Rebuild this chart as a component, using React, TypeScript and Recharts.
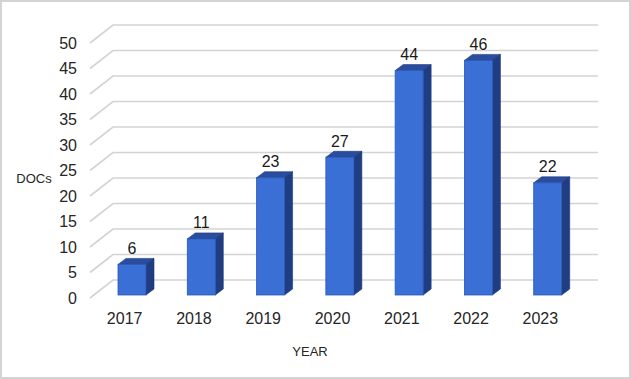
import React from "react";
import { BarChart, Bar, XAxis, YAxis, CartesianGrid, LabelList } from "recharts";

const years = ["2017", "2018", "2019", "2020", "2021", "2022", "2023"];
const docs = [6, 11, 23, 27, 44, 46, 22];
const yTicks = [0, 5, 10, 15, 20, 25, 30, 35, 40, 45, 50];

const data = years.map((y, i) => ({ year: y, docs: docs[i] }));

const DEPTH_X = 23;
const DEPTH_Y = -18;
const BAR_SHIFT_X = 7;
const BAR_SHIFT_Y = -3;
const BAR_DX = 8;
const BAR_DY = -6;
const FONT = "'Liberation Sans', Arial, sans-serif";

const GridLine = (props: any) => {
  const { x1, y1, x2 } = props;
  return (
    <path
      key={`g-${y1}`}
      d={`M${x1},${y1} L${x1 + DEPTH_X},${y1 + DEPTH_Y} L${x2 + DEPTH_X},${y1 + DEPTH_Y}`}
      fill="none"
      stroke="#d3d3d3"
      strokeWidth={1.6}
    />
  );
};

const Bar3D = (props: any) => {
  const { x, y, width, height } = props;
  const fx = x + BAR_SHIFT_X;
  const fy = y + BAR_SHIFT_Y;
  const w = width;
  const h = height;
  return (
    <g>
      <polygon
        points={`${fx},${fy} ${fx + BAR_DX},${fy + BAR_DY} ${fx + w + BAR_DX},${fy + BAR_DY} ${fx + w},${fy}`}
        fill="#2a4d9e"
        stroke="#1d3a7e"
        strokeWidth={0.6}
      />
      <polygon
        points={`${fx + w},${fy} ${fx + w + BAR_DX},${fy + BAR_DY} ${fx + w + BAR_DX},${fy + h + BAR_DY} ${fx + w},${fy + h}`}
        fill="#1f3d82"
        stroke="#1a3573"
        strokeWidth={0.6}
      />
      <rect x={fx} y={fy} width={w} height={h} fill="#3a6fd6" stroke="#2b57b5" strokeWidth={0.8} />
    </g>
  );
};

const ValueLabel = (props: any) => {
  const { x, y, width, value } = props;
  return (
    <text
      x={x + BAR_SHIFT_X + width / 2}
      y={y + BAR_SHIFT_Y - 16}
      textAnchor="middle"
      dominantBaseline="central"
      fontFamily={FONT}
      fontSize={16}
      fill="#1a1a1a"
    >
      {value}
    </text>
  );
};

const YTick = (props: any) => {
  const { y, payload } = props;
  return (
    <text
      x={77}
      y={y}
      textAnchor="end"
      dominantBaseline="central"
      fontFamily={FONT}
      fontSize={16}
      fill="#262626"
    >
      {payload.value}
    </text>
  );
};

const XTick = (props: any) => {
  const { x, payload } = props;
  return (
    <text
      x={x}
      y={318}
      textAnchor="middle"
      dominantBaseline="central"
      fontFamily={FONT}
      fontSize={16}
      fill="#262626"
    >
      {payload.value}
    </text>
  );
};

export default function App() {
  return (
    <div style={{ position: "relative", width: 631, height: 379, background: "#fff" }}>
      <style>{`body{margin:0;}`}</style>
      <BarChart
        width={631}
        height={379}
        data={data}
        margin={{ top: 43, right: 56, bottom: 51, left: 0 }}
        barSize={28}
      >
        <CartesianGrid vertical={false} horizontal={GridLine as any} />
        <XAxis
          dataKey="year"
          axisLine={false}
          tickLine={false}
          height={30}
          tick={<XTick />}
          interval={0}
        />
        <YAxis
          domain={[0, 50]}
          ticks={yTicks}
          axisLine={false}
          tickLine={false}
          width={90}
          tick={<YTick />}
          interval={0}
        />
        <Bar dataKey="docs" shape={<Bar3D />} isAnimationActive={false}>
          <LabelList dataKey="docs" content={<ValueLabel />} />
        </Bar>
        <text x={34} y={178} textAnchor="middle" dominantBaseline="central" fontFamily={FONT} fontSize={13} fill="#262626">
          DOCs
        </text>
        <text x={310} y={351} textAnchor="middle" dominantBaseline="central" fontFamily={FONT} fontSize={13} fill="#262626">
          YEAR
        </text>
      </BarChart>
      <div
        style={{
          position: "absolute",
          left: 0,
          top: 0,
          width: 631,
          height: 379,
          boxSizing: "border-box",
          border: "2px solid #d4d4d4",
          pointerEvents: "none",
        }}
      />
    </div>
  );
}
